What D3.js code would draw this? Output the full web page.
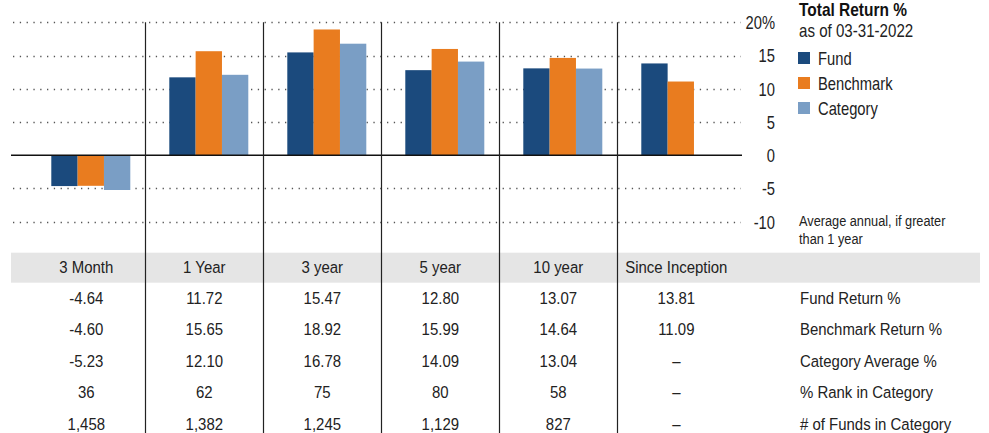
<!DOCTYPE html>
<html>
<head>
<meta charset="utf-8">
<script src="https://cdn.jsdelivr.net/npm/d3@7"></script>
<style>
  body { margin: 0; background: #fff; }
  svg text { font-family: "Liberation Sans", Arial, sans-serif; fill: #222; }
</style>
</head>
<body>
<script>
// periods shown on the chart and in the table
var periods = ["3 Month", "1 Year", "3 year", "5 year", "10 year", "Since Inception"];
var seriesNames = ["Fund", "Benchmark", "Category"];
var seriesColors = ["#1b4a7d", "#e97c1f", "#7a9ec5"];

var fundReturn = [-4.64, 11.72, 15.47, 12.80, 13.07, 13.81];
var benchReturn = [-4.60, 15.65, 18.92, 15.99, 14.64, 11.09];
var catReturn = [-5.23, 12.10, 16.78, 14.09, 13.04, null];
var rankInCat = ["36", "62", "75", "80", "58", "\u2013"];
var fundsInCat = ["1,458", "1,382", "1,245", "1,129", "827", "\u2013"];

var yTicks = [20, 15, 10, 5, 0, -5, -10];

var W = 989, H = 433;
var NARROW = 0.86; // no condensed font installed, squeeze a bit
var svg = d3.select("body").append("svg")
    .attr("width", W)
    .attr("height", H);

// helper: condensed looking text
function label(g, x, y, s, size, anchor, k) {
  return g.append("text")
      .attr("transform", "translate(" + x + "," + y + ") scale(" + (k || NARROW) + ",1)")
      .attr("text-anchor", anchor || "start")
      .style("font-size", size + "px")
      .text(s);
}

// scales
var x = d3.scaleBand().domain(periods).range([27.3, 735.3]);
var xInner = d3.scaleBand().domain(seriesNames).range([24, 24 + 79]);
var y = d3.scaleLinear().domain([-10, 20]).range([221.7, 22.3]);

// dotted grid
svg.append("g").selectAll("line")
    .data(yTicks.filter(function (d) { return d !== 0 }))
    .enter().append("line")
    .attr("x1", 13).attr("x2", 741)
    .attr("y1", function (d) { return Math.round(y(d)) + 0.5 })
    .attr("y2", function (d) { return Math.round(y(d)) + 0.5 })
    .attr("stroke", "#555")
    .attr("stroke-width", 1.3)
    .attr("stroke-dasharray", "1.3,5.5");

// y axis on the right
var yAxis = d3.axisRight(y)
    .tickValues(yTicks)
    .tickSize(0)
    .tickFormat(function (d) { return d === 20 ? "20%" : d });
var ya = svg.append("g")
    .attr("transform", "translate(775,0)")
    .call(yAxis);
ya.select(".domain").remove();
ya.selectAll("text")
    .attr("x", 0)
    .attr("text-anchor", "end")
    .attr("dy", "0.35em")
    .attr("transform", "scale(0.82,1)")
    .style("font-size", "18px")
    .style("fill", "#222");

// table header band
svg.append("rect")
    .attr("x", 11).attr("y", 252.7)
    .attr("width", 969).attr("height", 30)
    .attr("fill", "#e5e5e5");

// bars
var rows = [fundReturn, benchReturn, catReturn];
var barData = [];
periods.forEach(function (p, i) {
  seriesNames.forEach(function (s, j) {
    if (rows[j][i] != null) barData.push({ period: p, series: s, value: rows[j][i], c: seriesColors[j] });
  });
});
svg.append("g").selectAll("rect")
    .data(barData)
    .enter().append("rect")
    .attr("x", function (d) { return x(d.period) + xInner(d.series) })
    .attr("width", xInner.bandwidth())
    .attr("y", function (d) { return y(Math.max(0, d.value)) })
    .attr("height", function (d) { return Math.abs(y(d.value) - y(0)) })
    .attr("fill", function (d) { return d.c });

// zero line
svg.append("line")
    .attr("x1", 11).attr("x2", 742)
    .attr("y1", y(0)).attr("y2", y(0))
    .attr("stroke", "#111")
    .attr("stroke-width", 1.3);

// column dividers
svg.append("g").selectAll("line")
    .data(periods.slice(1))
    .enter().append("line")
    .attr("x1", function (d) { return Math.round(x(d)) + 0.5 })
    .attr("x2", function (d) { return Math.round(x(d)) + 0.5 })
    .attr("y1", y(20)).attr("y2", H)
    .attr("stroke", "#222")
    .attr("stroke-width", 1.2);

// legend
var lg = svg.append("g").attr("transform", "translate(798,0)");
label(lg, 1, 16, "Total Return %", 18, "start", 0.86)
    .style("font-weight", "bold").style("fill", "#111");
label(lg, 1, 37, "as of 03-31-2022", 18, "start", 0.84);
seriesNames.forEach(function (s, i) {
  lg.append("rect").attr("x", 0).attr("y", 52 + i * 25)
      .attr("width", 12).attr("height", 12)
      .attr("fill", seriesColors[i]);
  label(lg, 20, 65 + i * 25, s, 18, "start", 0.82);
});
label(lg, 1, 226, "Average annual, if greater", 14.5, "start", 0.88);
label(lg, 1, 244, "than 1 year", 14.5, "start", 0.88);

// table
var head = svg.append("g");
periods.forEach(function (p) {
  label(head, x(p) + x.bandwidth() / 2, 273, p, 17, "middle", 0.88);
});

var fmt = function (v) { return v == null ? "\u2013" : v.toFixed(2) };
var tableRows = [
  { label: "Fund Return %", vals: fundReturn.map(fmt) },
  { label: "Benchmark Return %", vals: benchReturn.map(fmt) },
  { label: "Category Average %", vals: catReturn.map(fmt) },
  { label: "% Rank in Category", vals: rankInCat },
  { label: "# of Funds in Category", vals: fundsInCat }
];
var body = svg.append("g");
tableRows.forEach(function (r, i) {
  var yy = 303.5 + i * 31.6;
  r.vals.forEach(function (v, k) {
    label(body, x(periods[k]) + x.bandwidth() / 2, yy, v, 17, "middle", 0.88);
  });
  label(body, 800, yy, r.label, 17, "start", 0.88);
});
</script>
</body>
</html>
